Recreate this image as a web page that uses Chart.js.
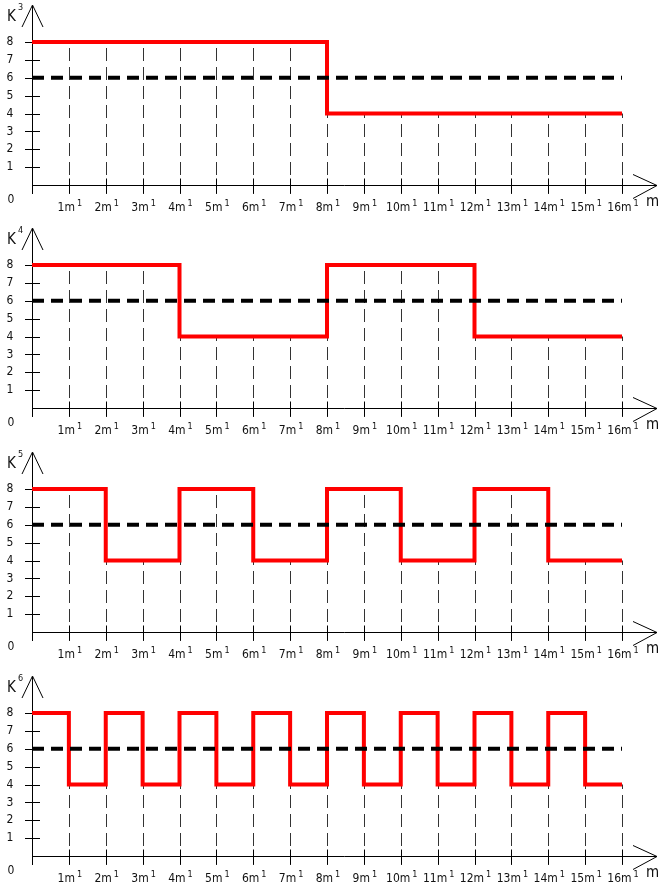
<!DOCTYPE html>
<html>
<head>
<meta charset="utf-8">
<script src="https://cdn.jsdelivr.net/npm/chart.js@4.4.0/dist/chart.umd.min.js"></script>
<style>
    body { margin: 0; background: #fff; }
    .panel { position: absolute; left: 0; width: 662px; height: 216px; }
</style>
</head>
<body>
<div class="panel" style="top:0px"><canvas id="c3" width="662" height="216"></canvas></div>
<div class="panel" style="top:223px"><canvas id="c4" width="662" height="216"></canvas></div>
<div class="panel" style="top:447px"><canvas id="c5" width="662" height="216"></canvas></div>
<div class="panel" style="top:671px"><canvas id="c6" width="662" height="216"></canvas></div>
<script>
// Niveaux par intervalle unitaire (0-1, 1-2, ... 15-16)
const levelsK3 = [8, 8, 8, 8, 8, 8, 8, 8, 4, 4, 4, 4, 4, 4, 4, 4];
const levelsK4 = [8, 8, 8, 8, 4, 4, 4, 4, 8, 8, 8, 8, 4, 4, 4, 4];
const levelsK5 = [8, 8, 4, 4, 8, 8, 4, 4, 8, 8, 4, 4, 8, 8, 4, 4];
const levelsK6 = [8, 4, 8, 4, 8, 4, 8, 4, 8, 4, 8, 4, 8, 4, 8, 4];
const meanLevel = 6;
const xTicks = [1, 2, 3, 4, 5, 6, 7, 8, 9, 10, 11, 12, 13, 14, 15, 16];
const yTicks = [1, 2, 3, 4, 5, 6, 7, 8];

const FONT = '"Liberation Sans Narrow", "DejaVu Sans Condensed", sans-serif';

function stepPoints(levels) {
    const pts = levels.map((v, i) => ({ x: i, y: v }));
    pts.push({ x: levels.length, y: levels[levels.length - 1] });
    return pts;
}

// Axes, flèches, pointillés verticaux et étiquettes
const axesPlugin = {
    id: 'axesPlugin',
    beforeDatasetsDraw(chart, args, opts) {
        const ctx = chart.ctx;
        const xs = chart.scales.x, ys = chart.scales.y;
        const x0 = xs.getPixelForValue(0);
        const y0 = ys.getPixelForValue(0);
        const levels = opts.levels;
        ctx.save();

        // pointillés verticaux
        ctx.strokeStyle = '#333';
        ctx.lineWidth = 1;
        ctx.setLineDash([13, 6]);
        xTicks.forEach(t => {
            const next = levels[t] !== undefined ? levels[t] : levels[t - 1];
            const top = Math.min(levels[t - 1], next);
            const px = Math.round(xs.getPixelForValue(t)) + 0.5;
            ctx.beginPath();
            ctx.moveTo(px, y0 + 9);
            ctx.lineTo(px, ys.getPixelForValue(top));
            ctx.stroke();
        });
        ctx.setLineDash([]);

        // axes
        ctx.strokeStyle = '#000';
        const ax = Math.round(x0) + 0.5, ay = Math.round(y0) + 0.5;
        ctx.beginPath();
        ctx.moveTo(ax, 6);
        ctx.lineTo(ax, y0 + 9);
        ctx.moveTo(ax, ay);
        ctx.lineTo(657, ay);
        ctx.stroke();
        // flèche Y
        ctx.beginPath();
        ctx.moveTo(22, 27);
        ctx.lineTo(ax, 5);
        ctx.lineTo(43, 27);
        ctx.stroke();
        // flèche X
        ctx.beginPath();
        ctx.moveTo(633, ay - 11);
        ctx.lineTo(657, ay);
        ctx.lineTo(633, ay + 13);
        ctx.stroke();

        // graduations
        yTicks.forEach(t => {
            const py = Math.round(ys.getPixelForValue(t)) + 0.5;
            ctx.beginPath();
            ctx.moveTo(25, py);
            ctx.lineTo(40, py);
            ctx.stroke();
        });
        xTicks.forEach(t => {
            const px = Math.round(xs.getPixelForValue(t)) + 0.5;
            ctx.beginPath();
            ctx.moveTo(px, ay - 7);
            ctx.lineTo(px, ay + 8);
            ctx.stroke();
        });
        ctx.restore();
    },
    afterDraw(chart, args, opts) {
        const ctx = chart.ctx;
        const xs = chart.scales.x, ys = chart.scales.y;
        const y0 = ys.getPixelForValue(0);
        ctx.save();
        ctx.fillStyle = '#111';
        ctx.textBaseline = 'middle';
        ctx.textAlign = 'center';
        ctx.font = '12px ' + FONT;
        yTicks.forEach(t => ctx.fillText(String(t), 10, ys.getPixelForValue(t)));
        ctx.fillText('0', 11, y0 + 15);

        // étiquettes 1m¹ ...
        xTicks.forEach(t => {
            const px = xs.getPixelForValue(t) + 1;
            ctx.font = '12px ' + FONT;
            const base = t + 'm';
            const w1 = ctx.measureText(base).width;
            ctx.font = '9px ' + FONT;
            const w2 = ctx.measureText('1').width;
            const left = px - (w1 + w2 + 2) / 2;
            ctx.textAlign = 'left';
            ctx.font = '12px ' + FONT;
            ctx.fillText(base, left, y0 + 23);
            ctx.font = '9px ' + FONT;
            ctx.fillText('1', left + w1 + 2, y0 + 19);
        });
        ctx.font = '15px ' + FONT;
        ctx.fillText('m', 646, y0 + 17);

        // nom de l'axe
        ctx.font = '15px ' + FONT;
        ctx.fillText('K', 7, 17);
        ctx.font = '9px ' + FONT;
        ctx.fillText(opts.power, 18, 8);
        ctx.restore();
    }
};

function makeChart(id, levels, power) {
    return new Chart(document.getElementById(id), {
        type: 'line',
        data: {
            datasets: [
                {
                    data: [{ x: 0, y: meanLevel }, { x: 16, y: meanLevel }],
                    borderColor: '#000',
                    borderWidth: 4,
                    borderDash: [12, 7],
                    pointRadius: 0,
                    clip: false
                },
                {
                    data: stepPoints(levels),
                    borderColor: '#ff0000',
                    borderWidth: 4,
                    stepped: 'before',
                    pointRadius: 0,
                    borderJoinStyle: 'miter',
                    clip: false
                }
            ]
        },
        options: {
            responsive: false,
            animation: false,
            devicePixelRatio: 1,
            layout: { padding: { left: 32, right: 40, top: 42, bottom: 31 } },
            scales: {
                x: { type: 'linear', min: 0, max: 16, display: false },
                y: { min: 0, max: 8, display: false }
            },
            plugins: {
                legend: { display: false },
                tooltip: { enabled: false },
                axesPlugin: { levels: levels, power: power }
            }
        },
        plugins: [axesPlugin]
    });
}

makeChart('c3', levelsK3, '3');
makeChart('c4', levelsK4, '4');
makeChart('c5', levelsK5, '5');
makeChart('c6', levelsK6, '6');
</script>
</body>
</html>
